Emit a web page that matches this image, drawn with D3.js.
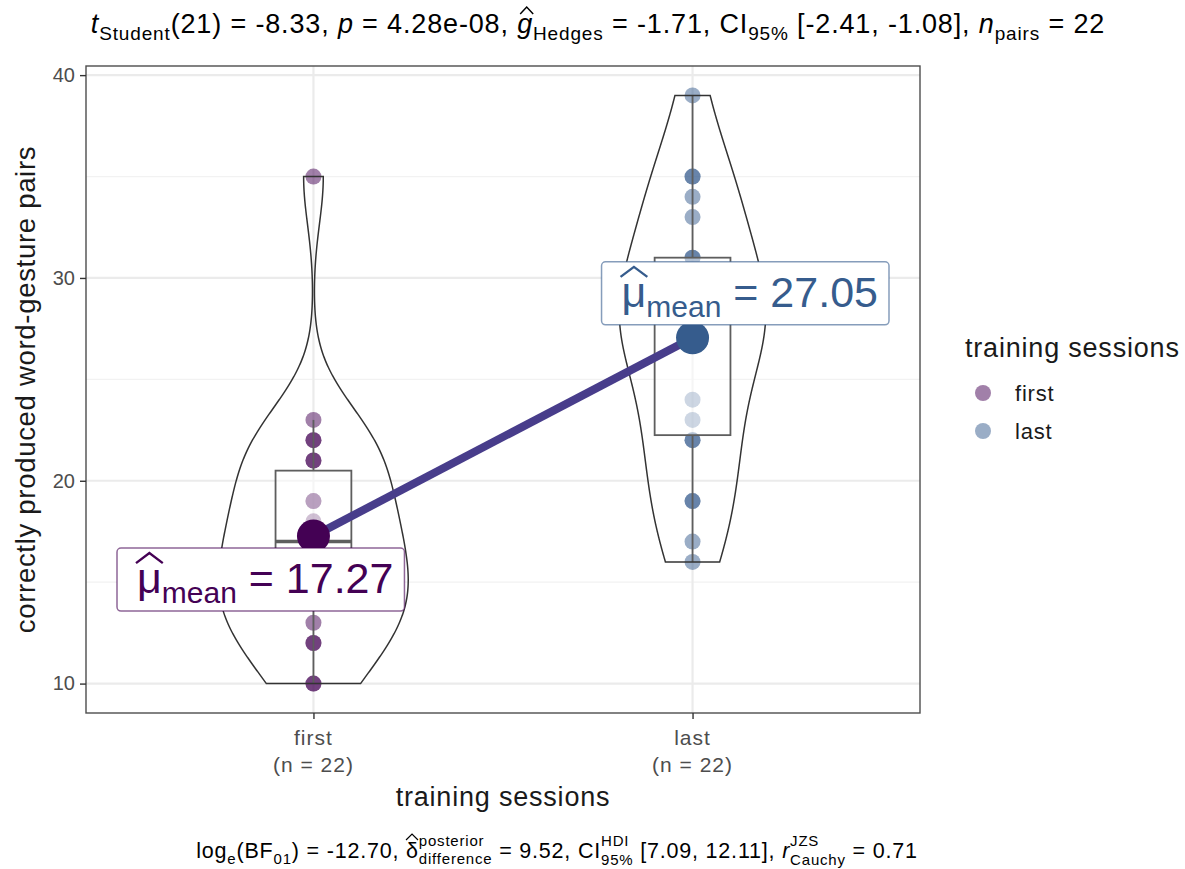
<!DOCTYPE html>
<html>
<head>
<meta charset="utf-8">
<script src="https://cdn.jsdelivr.net/npm/d3@7"></script>
<style>
  body { margin: 0; background: #fff; }
  text { font-family: "Liberation Sans", Arial, Helvetica, sans-serif; white-space: pre; }
</style>
</head>
<body>
<svg id="chart" width="1185" height="869"></svg>
<script>
// ---- data -------------------------------------------------------------
const sessions = ["first", "last"];
const firstScores = [10, 10, 12, 12, 13, 14, 14, 14, 15, 15, 17, 17, 17, 18, 19, 19, 21, 21, 22, 22, 23, 35];
const lastScores  = [16, 17, 19, 19, 22, 22, 23, 24, 27, 27, 28, 28, 28, 28, 29, 31, 31, 33, 34, 35, 35, 39];
const sessionColors = ["#440154", "#365C8D"];
const yMajorTicks = [10, 20, 30, 40];
const yMinorTicks = [15, 25, 35];

const yTitle = "correctly produced word-gesture pairs";
const xTitle = "training sessions";
const legendTitle = "training sessions";

// ---- layout -----------------------------------------------------------
const W = 1185, H = 869;
const panel = { left: 86, right: 920, top: 66, bottom: 713 };
const svg = d3.select("#chart");
svg.append("rect").attr("width", W).attr("height", H).attr("fill", "#fff");

const groups = sessions.map((s, i) => ({
  key: s,
  values: i === 0 ? firstScores : lastScores,
  color: sessionColors[i]
}));

const allValues = firstScores.concat(lastScores);
const [vMin, vMax] = d3.extent(allValues);
const pad = (vMax - vMin) * 0.05;

const y = d3.scaleLinear().domain([vMin - pad, vMax + pad]).range([panel.bottom, panel.top]);
const x = d3.scalePoint().domain(sessions).range([panel.left, panel.right]).padding(0.6);
const step = x.step();

// ---- grid -------------------------------------------------------------
const grid = svg.append("g");
grid.selectAll(".minor").data(yMinorTicks).join("line")
  .attr("x1", panel.left).attr("x2", panel.right)
  .attr("y1", d => y(d)).attr("y2", d => y(d))
  .attr("stroke", "#F2F2F2").attr("stroke-width", 1.2);
grid.selectAll(".major").data(yMajorTicks).join("line")
  .attr("x1", panel.left).attr("x2", panel.right)
  .attr("y1", d => y(d)).attr("y2", d => y(d))
  .attr("stroke", "#EBEBEB").attr("stroke-width", 2.2);
grid.selectAll(".vmajor").data(sessions).join("line")
  .attr("x1", d => x(d)).attr("x2", d => x(d))
  .attr("y1", panel.top).attr("y2", panel.bottom)
  .attr("stroke", "#EBEBEB").attr("stroke-width", 2.2);

// ---- statistics helpers -----------------------------------------------
function bwNrd0(v) {
  const s = v.slice().sort(d3.ascending);
  const sd = d3.deviation(s);
  const iqr = d3.quantile(s, 0.75) - d3.quantile(s, 0.25);
  let lo = Math.min(sd, iqr / 1.34);
  if (!(lo > 0)) lo = sd || Math.abs(s[0]) || 1;
  return 0.9 * lo * Math.pow(s.length, -0.2);
}
function kde(v, bw, grid) {
  const c = 1 / (bw * Math.sqrt(2 * Math.PI));
  return grid.map(t => [t, c * d3.mean(v, d => Math.exp(-0.5 * ((t - d) / bw) ** 2))]);
}

groups.forEach(g => {
  const s = g.values.slice().sort(d3.ascending);
  g.sorted = s;
  g.q1 = d3.quantile(s, 0.25);
  g.med = d3.quantile(s, 0.5);
  g.q3 = d3.quantile(s, 0.75);
  const iqr = g.q3 - g.q1;
  g.whiskLo = d3.min(s.filter(d => d >= g.q1 - 1.5 * iqr));
  g.whiskHi = d3.max(s.filter(d => d <= g.q3 + 1.5 * iqr));
  g.mean = d3.mean(s);
  const [lo, hi] = d3.extent(s);
  const gridPts = d3.range(512).map(i => lo + (hi - lo) * i / 511);
  g.density = kde(s, bwNrd0(s), gridPts);
});
const maxDensity = d3.max(groups, g => d3.max(g.density, d => d[1]));

// ---- points (boxes layered over them) -----------------------------------
const ptLayer = svg.append("g");
groups.forEach(g => {
  ptLayer.selectAll(null).data(g.values).join("circle")
    .attr("cx", x(g.key)).attr("cy", d => y(d)).attr("r", 8)
    .attr("fill", g.color).attr("fill-opacity", 0.5);
});

// ---- boxplots ----------------------------------------------------------
const boxHalf = 0.1 * step;
const boxLayer = svg.append("g");
groups.forEach(g => {
  const cx = x(g.key);
  const bg = boxLayer.append("g").attr("stroke", "#5E5E5E").attr("stroke-width", 1.8);
  bg.append("line").attr("x1", cx).attr("x2", cx).attr("y1", y(g.q3)).attr("y2", y(g.whiskHi));
  bg.append("line").attr("x1", cx).attr("x2", cx).attr("y1", y(g.q1)).attr("y2", y(g.whiskLo));
  bg.append("rect").attr("x", cx - boxHalf).attr("width", 2 * boxHalf)
    .attr("y", y(g.q3)).attr("height", y(g.q1) - y(g.q3))
    .attr("fill", "#fff").attr("fill-opacity", 0.5);
  bg.append("line").attr("x1", cx - boxHalf).attr("x2", cx + boxHalf)
    .attr("y1", y(g.med)).attr("y2", y(g.med)).attr("stroke-width", 3.5);
});

// ---- violins -----------------------------------------------------------
const violinHalf = 0.25 * step;
const vLayer = svg.append("g");
groups.forEach(g => {
  const cx = x(g.key);
  const w = d3.scaleLinear().domain([0, maxDensity]).range([0, violinHalf]);
  const right = g.density.map(d => [cx + w(d[1]), y(d[0])]);
  const left = g.density.slice().reverse().map(d => [cx - w(d[1]), y(d[0])]);
  vLayer.append("path")
    .attr("d", d3.line()(right.concat(left)) + "Z")
    .attr("fill", "none")
    .attr("stroke", "#333").attr("stroke-width", 1.5);
});

// ---- mean path and mean points ------------------------------------------
svg.append("path")
  .attr("d", d3.line()(groups.map(g => [x(g.key), y(g.mean)])))
  .attr("stroke", "#483D8B").attr("stroke-width", 8).attr("fill", "none");
svg.selectAll(".meanpt").data(groups).join("circle")
  .attr("cx", g => x(g.key)).attr("cy", g => y(g.mean)).attr("r", 16.5)
  .attr("fill", g => g.color);

// ---- rich text helper ---------------------------------------------------
function measure(str, size, italic, ls) {
  const t = svg.append("text").attr("font-size", size)
    .style("font-style", italic ? "italic" : null)
    .style("letter-spacing", (ls || 0) + "px").text(str);
  const w = t.node().getComputedTextLength();
  t.remove();
  return w;
}
function richText(parent, runs, x0, y0, anchor, color, ls) {
  ls = ls || 0;
  const g = parent.append("g").attr("fill", color).style("letter-spacing", ls + "px");
  const items = runs.map(r => {
    if (r.stack) {
      return Object.assign({}, r, { w: Math.max(measure(r.stack[0], r.size, false, ls), measure(r.stack[1], r.size, false, ls)) });
    }
    return Object.assign({}, r, { w: measure(r.t, r.size, r.it, ls) });
  });
  const total = d3.sum(items, d => d.w);
  let cx = anchor === "middle" ? x0 - total / 2 : anchor === "end" ? x0 - total : x0;
  items.forEach(r => {
    if (r.stack) {
      g.append("text").attr("x", cx).attr("y", y0 + r.up).attr("font-size", r.size).text(r.stack[0]);
      g.append("text").attr("x", cx).attr("y", y0 + r.down).attr("font-size", r.size).text(r.stack[1]);
    } else {
      g.append("text").attr("x", cx).attr("y", y0 + (r.dy || 0)).attr("font-size", r.size)
        .style("font-style", r.it ? "italic" : null).text(r.t);
      if (r.hat) {
        const [base, peak, inset] = r.hat;
        const sk = r.it ? 2 : 0;
        const gw = r.w - ls;
        g.append("path")
          .attr("d", `M${cx + inset + sk},${y0 - base} L${cx + gw / 2 + sk},${y0 - peak} L${cx + gw - inset + sk},${y0 - base}`)
          .attr("fill", "none").attr("stroke", color).attr("stroke-width", r.size / 18);
      }
    }
    cx += r.w;
  });
  return total;
}

// ---- mean labels -----------------------------------------------------------
const labelLayer = svg.append("g");
groups.forEach((g, i) => {
  const runs = [
    { t: "μ", size: 43, hat: [30, 40, -1] },
    { t: "mean", size: 30, dy: 10 },
    { t: " = " + d3.format(".2f")(g.mean), size: 43 }
  ];
  const textW = d3.sum(runs, r => measure(r.t, r.size));
  const boxW = textW + 31, boxH = 63;
  const px = x(g.key), py = y(g.mean);
  const bx = i === 0 ? px + 91 - boxW : px - 91;
  const by = i === 0 ? py + 12 : py - 13 - boxH;
  labelLayer.append("rect").attr("x", bx).attr("y", by).attr("width", boxW).attr("height", boxH)
    .attr("rx", 4).attr("fill", "#fff").attr("stroke", g.color).attr("stroke-opacity", 0.6).attr("stroke-width", 1.5);
  richText(labelLayer, runs, bx + 20, by + 45, "start", g.color);
});

// ---- panel border and axes ------------------------------------------------
svg.append("rect")
  .attr("x", panel.left).attr("y", panel.top)
  .attr("width", panel.right - panel.left).attr("height", panel.bottom - panel.top)
  .attr("fill", "none").attr("stroke", "#4D4D4D").attr("stroke-width", 1.4);

const yAxis = svg.append("g").attr("transform", `translate(${panel.left},0)`)
  .call(d3.axisLeft(y).tickValues(yMajorTicks).tickSize(6).tickPadding(5));
yAxis.select(".domain").remove();
yAxis.selectAll(".tick line").attr("stroke", "#333").attr("stroke-width", 1.4);
yAxis.selectAll(".tick text").attr("font-size", 20).attr("fill", "#4D4D4D")
  .attr("font-family", "Liberation Sans, Arial, sans-serif");

const xAxis = svg.append("g").attr("transform", `translate(0,${panel.bottom})`)
  .call(d3.axisBottom(x).tickSize(6).tickFormat(""));
xAxis.select(".domain").remove();
xAxis.selectAll(".tick line").attr("stroke", "#333").attr("stroke-width", 1.4);
groups.forEach(g => {
  const t = svg.append("text").attr("x", x(g.key)).attr("text-anchor", "middle")
    .attr("font-size", 21).attr("fill", "#4D4D4D").style("letter-spacing", "1px");
  t.append("tspan").attr("x", x(g.key)).attr("y", panel.bottom + 32).text(g.key);
  t.append("tspan").attr("x", x(g.key)).attr("y", panel.bottom + 59).text(`(n = ${g.values.length})`);
});

svg.append("text").attr("x", (panel.left + panel.right) / 2).attr("y", 806)
  .attr("text-anchor", "middle").attr("font-size", 27).attr("fill", "#1A1A1A")
  .style("letter-spacing", "0.8px").text(xTitle);
svg.append("text").attr("transform", `translate(35,${(panel.top + panel.bottom) / 2}) rotate(-90)`)
  .attr("text-anchor", "middle").attr("font-size", 27.5).attr("fill", "#1A1A1A")
  .style("letter-spacing", "0.7px").text(yTitle);

// ---- legend ------------------------------------------------------------------
svg.append("text").attr("x", 965).attr("y", 357).attr("font-size", 27).attr("fill", "#1A1A1A")
  .style("letter-spacing", "0.8px").text(legendTitle);
const leg = svg.append("g");
groups.forEach((g, i) => {
  leg.append("circle").attr("cx", 983).attr("cy", 393 + i * 38).attr("r", 8)
    .attr("fill", g.color).attr("fill-opacity", 0.5);
  leg.append("text").attr("x", 1015).attr("y", 401 + i * 38).attr("font-size", 22)
    .attr("fill", "#1A1A1A").style("letter-spacing", "0.8px").text(g.key);
});

// ---- statistical title and caption ---------------------------------------------
const T = 27, TS = 19;
richText(svg, [
  { t: "t", size: T, it: true },
  { t: "Student", size: TS, dy: 7 },
  { t: "(21) = -8.33, ", size: T },
  { t: "p", size: T, it: true },
  { t: " = 4.28e-08, ", size: T },
  { t: "g", size: T, it: true, hat: [19, 26, 1] },
  { t: "Hedges", size: TS, dy: 7 },
  { t: " = -1.71, CI", size: T },
  { t: "95%", size: TS, dy: 7 },
  { t: " [-2.41, -1.08], ", size: T },
  { t: "n", size: T, it: true },
  { t: "pairs", size: TS, dy: 7 },
  { t: " = 22", size: T }
], 598, 33, "middle", "#000", 0.85);

const C = 21.5, CS = 15;
richText(svg, [
  { t: "log", size: C },
  { t: "e", size: CS, dy: 6 },
  { t: "(BF", size: C },
  { t: "01", size: CS, dy: 6 },
  { t: ") = -12.70, ", size: C },
  { t: "δ", size: C, hat: [18, 24, 0] },
  { stack: ["posterior", "difference"], size: CS, up: -12, down: 6 },
  { t: " = 9.52, CI", size: C },
  { stack: ["HDI", "95%"], size: CS, up: -12, down: 7 },
  { t: " [7.09, 12.11], ", size: C },
  { t: "r", size: C, it: true },
  { stack: ["JZS", "Cauchy"], size: CS, up: -12, down: 7 },
  { t: " = 0.71", size: C }
], 557, 858, "middle", "#000", 0.8);
</script>
</body>
</html>
